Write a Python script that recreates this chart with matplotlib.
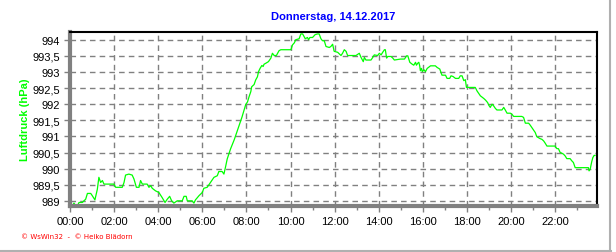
import matplotlib
matplotlib.use("Agg")
import matplotlib.pyplot as plt
from matplotlib.ticker import FixedLocator, MultipleLocator
from matplotlib.lines import Line2D

title = "Donnerstag, 14.12.2017"
y_label = "Luftdruck (hPa)"
footer = "\u00a9 WsWin32  -  \u00a9 Heiko Bl\u00e4dorn"

hours = [0.03, 0.11, 0.18, 0.26, 0.33, 0.41, 0.56, 0.63, 0.71, 0.79, 0.94, 1.01, 1.13, 1.24, 1.31,
         1.39, 1.47, 1.54, 1.99, 2.07, 2.37, 2.45, 2.52, 2.67, 2.82, 2.9, 3.01, 3.13, 3.2, 3.28,
         3.5, 3.58, 3.66, 3.73, 3.88, 4.03, 4.18, 4.31, 4.41, 4.52, 4.61, 4.71, 4.86, 5.09, 5.17,
         5.27, 5.32, 5.54, 5.62, 5.69, 5.85, 6.0, 6.07, 6.22, 6.37, 6.53, 6.68, 6.75, 6.9, 6.98,
         7.05, 7.13, 7.21, 7.28, 7.45, 7.6, 7.8,
         7.97, 8.05, 8.12, 8.2, 8.24, 8.35, 8.42, 8.5, 8.55, 8.62, 8.7, 8.76, 8.8, 8.88, 9.0,
         9.11, 9.18, 9.26, 9.36, 9.48, 9.56, 10.02, 10.09, 10.17, 10.24, 10.39, 10.47, 10.55,
         10.67, 10.77, 10.82, 10.88, 11.0, 11.12, 11.23, 11.3, 11.38, 11.45, 11.53, 11.61, 11.76,
         11.83, 11.91, 11.98, 12.14, 12.29, 12.36, 12.44, 12.52, 12.59, 12.97, 13.12, 13.2, 13.3,
         13.35, 13.42, 13.65, 13.73, 13.8, 13.95, 14.03, 14.11, 14.18, 14.26, 14.3, 14.36, 14.41,
         14.56, 14.64, 14.71,
         14.99, 15.17, 15.26, 15.32, 15.41, 15.52, 15.59, 15.67, 15.71, 15.77, 15.82, 15.86,
         15.89, 15.94, 15.98, 16.05, 16.12, 16.2, 16.35, 16.57, 16.65, 16.77, 16.87, 17.03, 17.1,
         17.22, 17.28, 17.37, 17.48, 17.63, 17.7, 17.78, 17.83, 17.86, 17.93, 17.98, 18.23, 18.38,
         18.46, 18.61, 18.76, 18.84, 18.94, 18.99, 19.06, 19.14, 19.21, 19.29, 19.36, 19.59,
         19.67, 19.74, 19.82, 19.97, 20.04, 20.12, 20.49, 20.57, 20.65, 20.8, 20.87, 20.95, 21.1,
         21.17, 21.32, 21.4, 21.48, 21.55, 21.63, 22.0, 22.08, 22.15, 22.23, 22.3, 22.38, 22.46,
         22.53, 22.68, 22.76, 22.83, 22.91, 23.51, 23.54, 23.59, 23.62, 23.66, 23.71, 23.77, 23.81]

pressure = [988.95, 988.84, 988.93, 988.84, 988.84, 988.95, 988.95, 989.0, 989.05, 989.23, 989.23,
            989.16, 989.03, 989.36, 989.73, 989.57, 989.63, 989.52, 989.52, 989.42, 989.42, 989.57,
            989.8, 989.83, 989.8, 989.68, 989.42, 989.42, 989.63, 989.52, 989.52, 989.42, 989.47,
            989.39, 989.31, 989.26, 989.1, 988.95, 989.05, 989.14, 989.0, 988.93, 989.0, 989.0,
            989.14, 989.14, 989.0, 989.0, 988.93, 989.03, 989.16, 989.26, 989.39, 989.42, 989.57,
            989.73, 989.78, 989.91, 989.91, 989.83, 990.04, 990.3, 990.46, 990.61, 990.9, 991.2, 991.6,
            991.99, 992.07, 992.23, 992.39, 992.54, 992.61, 992.75, 992.85, 993.01, 993.11, 993.2,
            993.17, 993.24, 993.27, 993.32, 993.43, 993.58, 993.51, 993.51, 993.66, 993.69, 993.69,
            993.84, 993.9, 994.0, 994.03, 994.18, 994.18, 994.03, 994.07, 994.0, 994.07, 994.07,
            994.16, 994.18, 994.18, 994.03, 993.97, 993.97, 993.79, 993.76, 993.79, 993.86, 993.64,
            993.61, 993.51, 993.58, 993.69, 993.64, 993.51, 993.51, 993.58, 993.45, 993.32, 993.45,
            993.37, 993.37, 993.45, 993.53, 993.51, 993.58, 993.53, 993.61, 993.69, 993.69, 993.43,
            993.48, 993.48, 993.43, 993.37,
            993.40, 993.40, 993.50, 993.50, 993.30, 993.24, 993.21, 993.30, 993.21, 993.27, 993.30,
            993.19, 993.04, 993.11, 993.01, 993.07, 993.01, 993.11, 993.19, 993.19, 993.14, 993.09,
            992.90, 992.90, 992.80, 992.80, 992.88, 992.86, 992.80, 992.80, 992.88, 992.88, 992.78,
            992.73, 992.76, 992.52, 992.52, 992.52, 992.41, 992.26, 992.18, 992.13, 992.05, 991.97,
            991.90, 992.0, 991.95, 991.87, 991.82, 991.82, 991.90, 991.82, 991.72, 991.72, 991.69,
            991.62, 991.62, 991.59, 991.41, 991.41, 991.35, 991.27, 991.12, 990.99, 990.93, 990.91,
            990.86, 990.79, 990.70, 990.70, 990.62, 990.62, 990.50, 990.48, 990.45, 990.39, 990.31,
            990.31, 990.24, 990.19, 990.03, 990.03, 989.93, 989.98, 990.08, 990.21, 990.34, 990.41,
            990.41]

x_ticks = [0, 2, 4, 6, 8, 10, 12, 14, 16, 18, 20, 22]
x_tick_labels = ["00:00", "02:00", "04:00", "06:00", "08:00", "10:00", "12:00", "14:00",
                 "16:00", "18:00", "20:00", "22:00"]
y_ticks = [989, 989.5, 990, 990.5, 991, 991.5, 992, 992.5, 993, 993.5, 994]
y_tick_labels = ["989", "989,5", "990", "990,5", "991", "991,5", "992", "992,5", "993",
                 "993,5", "994"]

plt.rcParams['font.family'] = ['Liberation Sans', 'DejaVu Sans']

W, H = 616, 253
fig = plt.figure(figsize=(W / 100, H / 100), dpi=100)
L, R, T, B = 70, 597, 33, 207
ax = fig.add_axes([L / W, 1 - B / H, (R - L) / W, (B - T) / H])

ax.plot(hours, pressure, color='#00ff00', lw=0.9)

px_per_h = 22.05
ax.set_xlim(0, (R - L) / px_per_h)
ax.set_ylim(988.84, 994.24)

ax.xaxis.set_major_locator(FixedLocator(x_ticks))
ax.set_xticklabels(x_tick_labels)
ax.xaxis.set_minor_locator(MultipleLocator(1))
ax.set_yticks(y_ticks)
ax.set_yticklabels(y_tick_labels)

ax.grid(True, which='major', color='#808080', linestyle=(0, (4, 3)), lw=1.0)
ax.set_axisbelow(True)

for s in ['left', 'bottom']:
    ax.spines[s].set_color('#808080')
    ax.spines[s].set_linewidth(3)
for s in ['top', 'right']:
    ax.spines[s].set_color('black')
    ax.spines[s].set_linewidth(1.5)

ax.tick_params(axis='both', which='both', colors='#808080', labelcolor='black', labelsize=8,
               length=4, width=1, direction='out')
ax.tick_params(axis='x', which='minor', length=3)
ax.tick_params(axis='x', pad=3)
ax.tick_params(axis='y', pad=3)

fig.text((L + R) / 2 / W, 1 - 17 / H, title, color='#0000ff', fontsize=8, fontweight='bold',
         ha='center', va='center')
fig.text(25 / W, 1 - 120 / H, y_label, color='#00ff00', fontsize=8, fontweight='bold',
         rotation=90, ha='center', va='center')
fig.text(21 / W, 1 - 237 / H, footer, color='#ff0000', fontsize=5, ha='left', va='center',
         family=['DejaVu Sans'])

fig.add_artist(Line2D([610 / W, 610 / W], [0, 1], transform=fig.transFigure, color='#b0b0b0', lw=1.5))
fig.add_artist(Line2D([0, 611 / W], [1.5 / H, 1.5 / H], transform=fig.transFigure, color='#b0b0b0', lw=1.5))

fig.savefig('out.png', dpi=100)
